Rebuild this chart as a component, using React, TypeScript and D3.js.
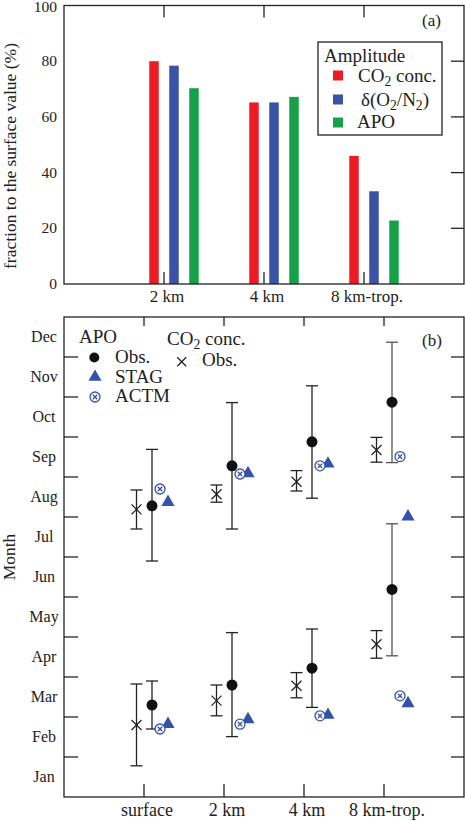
import React from 'react';
import * as d3 from 'd3';

// panel (a): amplitude as fraction of the surface value (%)
const topCategories = ['2 km', '4 km', '8 km-trop.'];
const co2Amplitude = [80, 65.2, 46];
const o2n2Amplitude = [78.4, 65.2, 33.3];
const apoAmplitude = [70.3, 67.2, 22.8];
const amplitudeTicks = [0, 20, 40, 60, 80, 100];

// panel (b): timing of seasonal max/min, in months (0 = 1 Jan, 12 = 31 Dec)
const levels = ['surface', '2 km', '4 km', '8 km-trop.'];
const monthNames = ['Jan', 'Feb', 'Mar', 'Apr', 'May', 'Jun', 'Jul', 'Aug', 'Sep', 'Oct', 'Nov', 'Dec'];

const co2MaxObs = [7.19, 7.57, 7.88, 8.675];
const co2MaxLo = [6.7, 7.37, 7.65, 8.37];
const co2MaxHi = [7.675, 7.8, 8.16, 8.99];
const co2MinObs = [1.8, 2.41, 2.78, 3.82];
const co2MinLo = [0.78, 2.03, 2.48, 3.47];
const co2MinHi = [2.825, 2.8, 3.11, 4.16];

const apoMaxObs = [7.28, 8.28, 8.88, 9.87];
const apoMaxLo = [5.9, 6.7, 7.47, 8.36];
const apoMaxHi = [8.69, 9.86, 10.28, 11.37];
const apoMinObs = [2.3, 2.8, 3.22, 5.19];
const apoMinLo = [1.7, 1.51, 2.24, 3.53];
const apoMinHi = [2.9, 4.11, 4.2, 6.83];

const actmMax = [7.7, 8.075, 8.28, 8.51];
const actmMin = [1.7, 1.82, 2.03, 2.53];
const stagMax = [7.37, 8.09, 8.33, 7.01];
const stagMin = [1.82, 1.94, 2.05, 2.34];

const FONT = '"Liberation Serif", "Times New Roman", serif';
const INK = '#222';
const BLUE = '#3651a8';

const ErrBar = ({ x, y0, y1, color = INK }: { x: number; y0: number; y1: number; color?: string }) => (
  <g stroke={color} strokeWidth={1.3}>
    <line x1={x} x2={x} y1={y0} y2={y1} />
    <line x1={x - 6} x2={x + 6} y1={y0} y2={y0} />
    <line x1={x - 6} x2={x + 6} y1={y1} y2={y1} />
  </g>
);

const Cross = ({ x, y, s = 5 }: { x: number; y: number; s?: number }) => (
  <g stroke={INK} strokeWidth={1.3}>
    <line x1={x - s} x2={x + s} y1={y - s} y2={y + s} />
    <line x1={x - s} x2={x + s} y1={y + s} y2={y - s} />
  </g>
);

const OTimes = ({ x, y }: { x: number; y: number }) => (
  <g stroke={BLUE} strokeWidth={1.3}>
    <circle cx={x} cy={y} r={5} fill="white" />
    <line x1={x - 2.2} x2={x + 2.2} y1={y - 2.2} y2={y + 2.2} />
    <line x1={x - 2.2} x2={x + 2.2} y1={y + 2.2} y2={y - 2.2} />
  </g>
);

const triangle = d3.symbol().type(d3.symbolTriangle).size(75)() as string;

const Tri = ({ x, y }: { x: number; y: number }) => (
  <path d={triangle} transform={`translate(${x},${y})`} fill={BLUE} />
);

const Sub = ({ children }: { children: React.ReactNode }) => (
  <tspan dy={4} fontSize="0.72em">{children}</tspan>
);

export default function App() {
  // ---- panel (a)
  const xA = d3.scaleLinear().domain([0, 4]).range([64, 464]);
  const yA = d3.scaleLinear().domain([0, 100]).range([284, 5.5]);
  const barW = xA(0.095) - xA(0);
  const barSeries = [
    { values: co2Amplitude, color: '#ec1c24', offset: -0.1 },
    { values: o2n2Amplitude, color: '#3a53a4', offset: 0.1 },
    { values: apoAmplitude, color: '#16a04a', offset: 0.3 },
  ];

  // ---- panel (b)
  const xB = d3.scaleLinear().domain([0, 5]).range([64, 464]);
  const yB = d3.scaleLinear().domain([0, 12]).range([797, 317]);
  const monthEdges = d3.range(1, 12);

  return (
    <div style={{ position: 'absolute', left: 0, top: 0 }}>
      <svg width={465} height={821} fontFamily={FONT} fill={INK}>
        {/* ================= panel (a) ================= */}
        {topCategories.map((c, i) => (
          <g key={c} stroke={INK} strokeWidth={1.3}>
            <line x1={xA(i + 1)} x2={xA(i + 1)} y1={yA(100)} y2={yA(100) + 12} />
            <line x1={xA(i + 1)} x2={xA(i + 1)} y1={yA(0)} y2={yA(0) - 12} />
          </g>
        ))}
        {amplitudeTicks.slice(1, -1).map((t) => (
          <line key={t} x1={xA(4) - 13} x2={xA(4)} y1={yA(t)} y2={yA(t)} stroke={INK} strokeWidth={1.3} />
        ))}
        {barSeries.map((s) =>
          s.values.map((v, i) => (
            <rect
              key={`${s.color}-${i}`}
              x={xA(i + 1 + s.offset) - barW / 2}
              y={yA(v)}
              width={barW}
              height={yA(0) - yA(v)}
              fill={s.color}
            />
          ))
        )}
        <rect x={xA(0)} y={yA(100)} width={xA(4) - xA(0)} height={yA(0) - yA(100)} fill="none" stroke={INK} strokeWidth={1.3} />
        {amplitudeTicks.map((t) => (
          <text key={t} x={57} y={Math.max(yA(t) + 5, 12)} textAnchor="end" fontSize={15.5}>{t}</text>
        ))}
        {topCategories.map((c, i) => (
          <text key={c} x={xA(i + 1) + 3} y={302} textAnchor="middle" fontSize={17}>{c}</text>
        ))}
        <text transform="translate(15.5,156) rotate(-90)" textAnchor="middle" fontSize={17.5}>
          fraction to the surface value (%)
        </text>
        <text x={422} y={26} fontSize={17}>(a)</text>

        {/* legend (a) */}
        <rect x={318} y={42} width={124} height={93} fill="white" stroke={INK} strokeWidth={1.3} />
        <text x={324} y={62} fontSize={19}>Amplitude</text>
        <rect x={333} y={70.5} width={10} height={10} fill="#ec1c24" />
        <rect x={333} y={94.5} width={10} height={10} fill="#3a53a4" />
        <rect x={333} y={117.5} width={10} height={10} fill="#16a04a" />
        <text x={358} y={82} fontSize={19}>CO<Sub>2</Sub><tspan dy={-4}> conc.</tspan></text>
        <text x={361} y={106} fontSize={19}>δ(O<Sub>2</Sub><tspan dy={-4}>/N</tspan><Sub>2</Sub><tspan dy={-4}>)</tspan></text>
        <text x={357} y={128} fontSize={19}>APO</text>

        {/* ================= panel (b) ================= */}
        {levels.map((c, i) => (
          <g key={c} stroke={INK} strokeWidth={1.3}>
            <line x1={xB(i + 1)} x2={xB(i + 1)} y1={yB(12)} y2={yB(12) + 9} />
            <line x1={xB(i + 1)} x2={xB(i + 1)} y1={yB(0)} y2={yB(0) - 13} />
          </g>
        ))}
        {monthEdges.map((m) => (
          <g key={m} stroke={INK} strokeWidth={1.3}>
            <line x1={xB(0)} x2={xB(0) + 14} y1={yB(m)} y2={yB(m)} />
            <line x1={xB(5) - 13} x2={xB(5)} y1={yB(m)} y2={yB(m)} />
          </g>
        ))}
        <rect x={xB(0)} y={yB(12)} width={xB(5) - xB(0)} height={yB(0) - yB(12)} fill="none" stroke={INK} strokeWidth={1.3} />
        {monthNames.map((m, i) => (
          <text key={m} x={44} y={yB(i + 0.5) + 5} textAnchor="middle" fontSize={16}>{m}</text>
        ))}
        {levels.map((c, i) => (
          <text key={c} x={xB(i + 1) + 3} y={816} textAnchor="middle" fontSize={18}>{c}</text>
        ))}
        <text transform="translate(15,557) rotate(-90)" textAnchor="middle" fontSize={17.5}>Month</text>
        <text x={422} y={346} fontSize={17}>(b)</text>

        {/* error bars */}
        {levels.map((c, i) => {
          const xc = xB(i + 1) - 7.5;
          const xa = xB(i + 1) + 8;
          const barColor = i === 3 ? '#555' : INK;
          return (
            <g key={c}>
              <ErrBar x={xc} y0={yB(co2MaxLo[i])} y1={yB(co2MaxHi[i])} />
              <ErrBar x={xc} y0={yB(co2MinLo[i])} y1={yB(co2MinHi[i])} />
              <ErrBar x={xa} y0={yB(apoMaxLo[i])} y1={yB(apoMaxHi[i])} color={barColor} />
              <ErrBar x={xa} y0={yB(apoMinLo[i])} y1={yB(apoMinHi[i])} color={barColor} />
            </g>
          );
        })}
        {/* markers */}
        {levels.map((c, i) => {
          const x0 = xB(i + 1);
          return (
            <g key={c}>
              <Cross x={x0 - 7.5} y={yB(co2MaxObs[i])} />
              <Cross x={x0 - 7.5} y={yB(co2MinObs[i])} />
              <circle cx={x0 + 8} cy={yB(apoMaxObs[i])} r={5.5} fill="#111" />
              <circle cx={x0 + 8} cy={yB(apoMinObs[i])} r={5.5} fill="#111" />
              <Tri x={x0 + 24} y={yB(stagMax[i])} />
              <Tri x={x0 + 24} y={yB(stagMin[i])} />
              <OTimes x={x0 + 16} y={yB(actmMax[i])} />
              <OTimes x={x0 + 16} y={yB(actmMin[i])} />
            </g>
          );
        })}

        {/* legend (b) */}
        <text x={79} y={343} fontSize={19}>APO</text>
        <circle cx={94.3} cy={357.5} r={5} fill="#111" />
        <text x={115} y={363} fontSize={19}>Obs.</text>
        <Tri x={95} y={377} />
        <text x={115} y={383} fontSize={19}>STAG</text>
        <OTimes x={95} y={397} />
        <text x={115} y={402} fontSize={19}>ACTM</text>
        <text x={167} y={345} fontSize={19}>CO<Sub>2</Sub><tspan dy={-4}> conc.</tspan></text>
        <Cross x={181.7} y={361.7} s={4.5} />
        <text x={202} y={366} fontSize={19}>Obs.</text>
      </svg>
    </div>
  );
}
